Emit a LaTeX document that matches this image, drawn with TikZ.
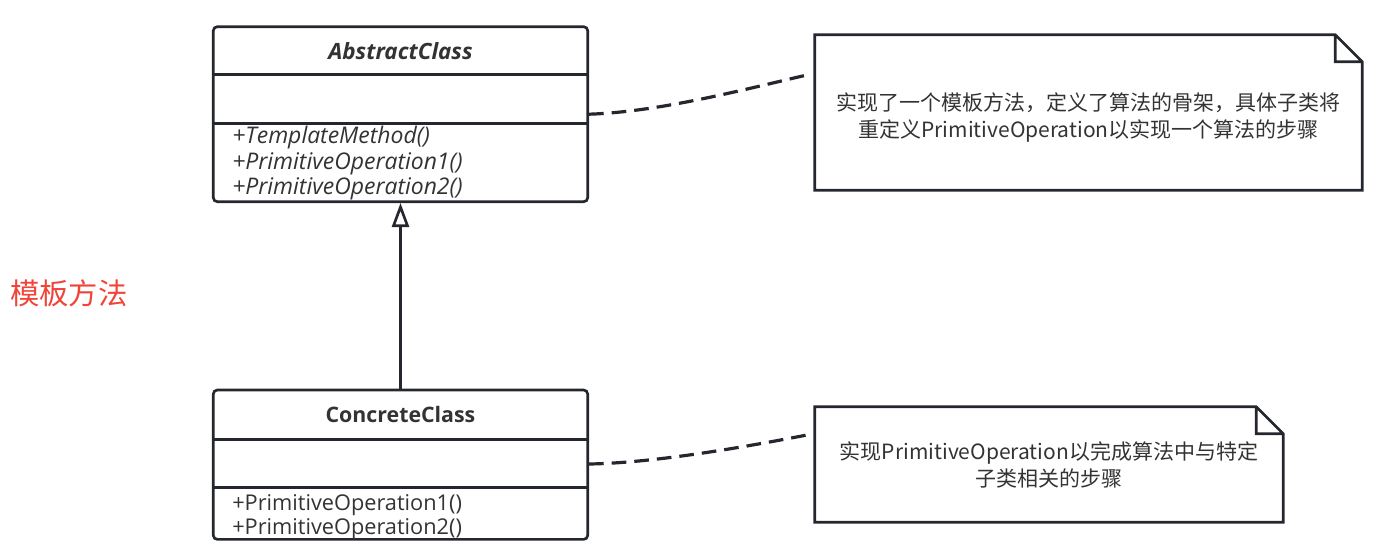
\documentclass[tikz,border=0pt]{standalone}
\usepackage{fontspec}
\setmainfont{Open Sans}
\newfontfamily\cjk{Noto Sans CJK SC}
\usetikzlibrary{arrows.meta,positioning}
\definecolor{linec}{RGB}{36,40,46}
\definecolor{textc}{RGB}{51,51,51}
\definecolor{titlered}{RGB}{240,68,56}

\begin{document}
\begin{tikzpicture}[x=0.75pt,y=-0.75pt,
    cls/.style={draw=linec,line width=2pt,rounded corners=3pt,minimum width=280.8pt,inner sep=0pt},
    clsname/.style={text=textc,anchor=base},
    meth/.style={font=\fontsize{16.3}{19}\selectfont,text=textc,anchor=base west,inner sep=0pt},
    notebox/.style n args={2}{minimum width=#1,minimum height=#2,inner sep=0pt},
    notetext/.style={align=center,inner sep=0pt,font=\cjk\fontsize{15.75}{20.25}\selectfont,text=textc},
    noteline/.style={draw=linec,line width=2pt},
    conn/.style={draw=linec,line width=2.4pt,dash pattern=on 11pt off 6pt}]
    \useasboundingbox (0,0) rectangle (1378,559);
    \node[font=\cjk\fontsize{22}{26}\selectfont,text=titlered,anchor=west,inner sep=0pt] (title) at (10,293.5) {模板方法};
    \node[cls,minimum height=131.25pt] (abs) at (400.5,114.2) {};
    \node[clsname,font=\fontsize{16.8}{20}\selectfont\bfseries\itshape] (absname) at (400.5,59.3) {AbstractClass};
    \draw[noteline] (abs.west |- 0,74.3) -- (abs.east |- 0,74.3) (abs.west |- 0,123.3) -- (abs.east |- 0,123.3);
    \foreach \t [count=\i] in {+TemplateMethod(),+PrimitiveOperation1(),+PrimitiveOperation2()}
        \node[meth,font=\fontsize{17.2}{20}\selectfont\itshape] (am\i) at (232,118.5+25.5*\i) {\t};
    \node[cls,minimum height=112pt] (con) at (400.5,464.7) {};
    \node[clsname,font=\fontsize{16}{19}\selectfont\bfseries] (conname) at (400.5,423) {ConcreteClass};
    \draw[noteline] (con.west |- 0,439.3) -- (con.east |- 0,439.3) (con.west |- 0,487.3) -- (con.east |- 0,487.3);
    \foreach \t [count=\i] in {+PrimitiveOperation1(),+PrimitiveOperation2()}
        \node[meth] (cm\i) at (232,485.5+24.5*\i) {\t};
    \draw[line width=2pt,draw=linec,-{Triangle[open,length=18pt,width=12.75pt]}] (con) -- (abs);
    \node[notebox={410.25pt}{116.25pt}] (n1) at (1088.5,112.5) {};
    \node[notetext] (n1t) at ([yshift=-3.75pt]n1.center) {实现了一个模板方法，定义了算法的骨架，具体子类将\\重定义PrimitiveOperation以实现一个算法的步骤};
    \draw[noteline] (n1.north west) -- ([xshift=-20.25pt]n1.north east) -- ([yshift=-20.25pt]n1.north east) -- (n1.south east) -- (n1.south west) -- cycle
        ([xshift=-20.25pt]n1.north east) |- ([yshift=-20.25pt]n1.north east);
    \node[notebox={351pt}{86.25pt}] (n2) at (1049,464.5) {};
    \node[notetext] (n2t) at (n2.center) {实现PrimitiveOperation以完成算法中与特定\\子类相关的步骤};
    \draw[noteline] (n2.north west) -- ([xshift=-20.25pt]n2.north east) -- ([yshift=-20.25pt]n2.north east) -- (n2.south east) -- (n2.south west) -- cycle
        ([xshift=-20.25pt]n2.north east) |- ([yshift=-20.25pt]n2.north east);
    \coordinate (e1) at (807,75);
    \coordinate (e2) at (807,435);
    \draw[conn] (abs.east) .. controls (660,112) and (750,88) .. (e1);
    \draw[conn] (con.east |- 0,464) .. controls (655,463) and (750,446) .. (e2);
\end{tikzpicture}
\end{document}
